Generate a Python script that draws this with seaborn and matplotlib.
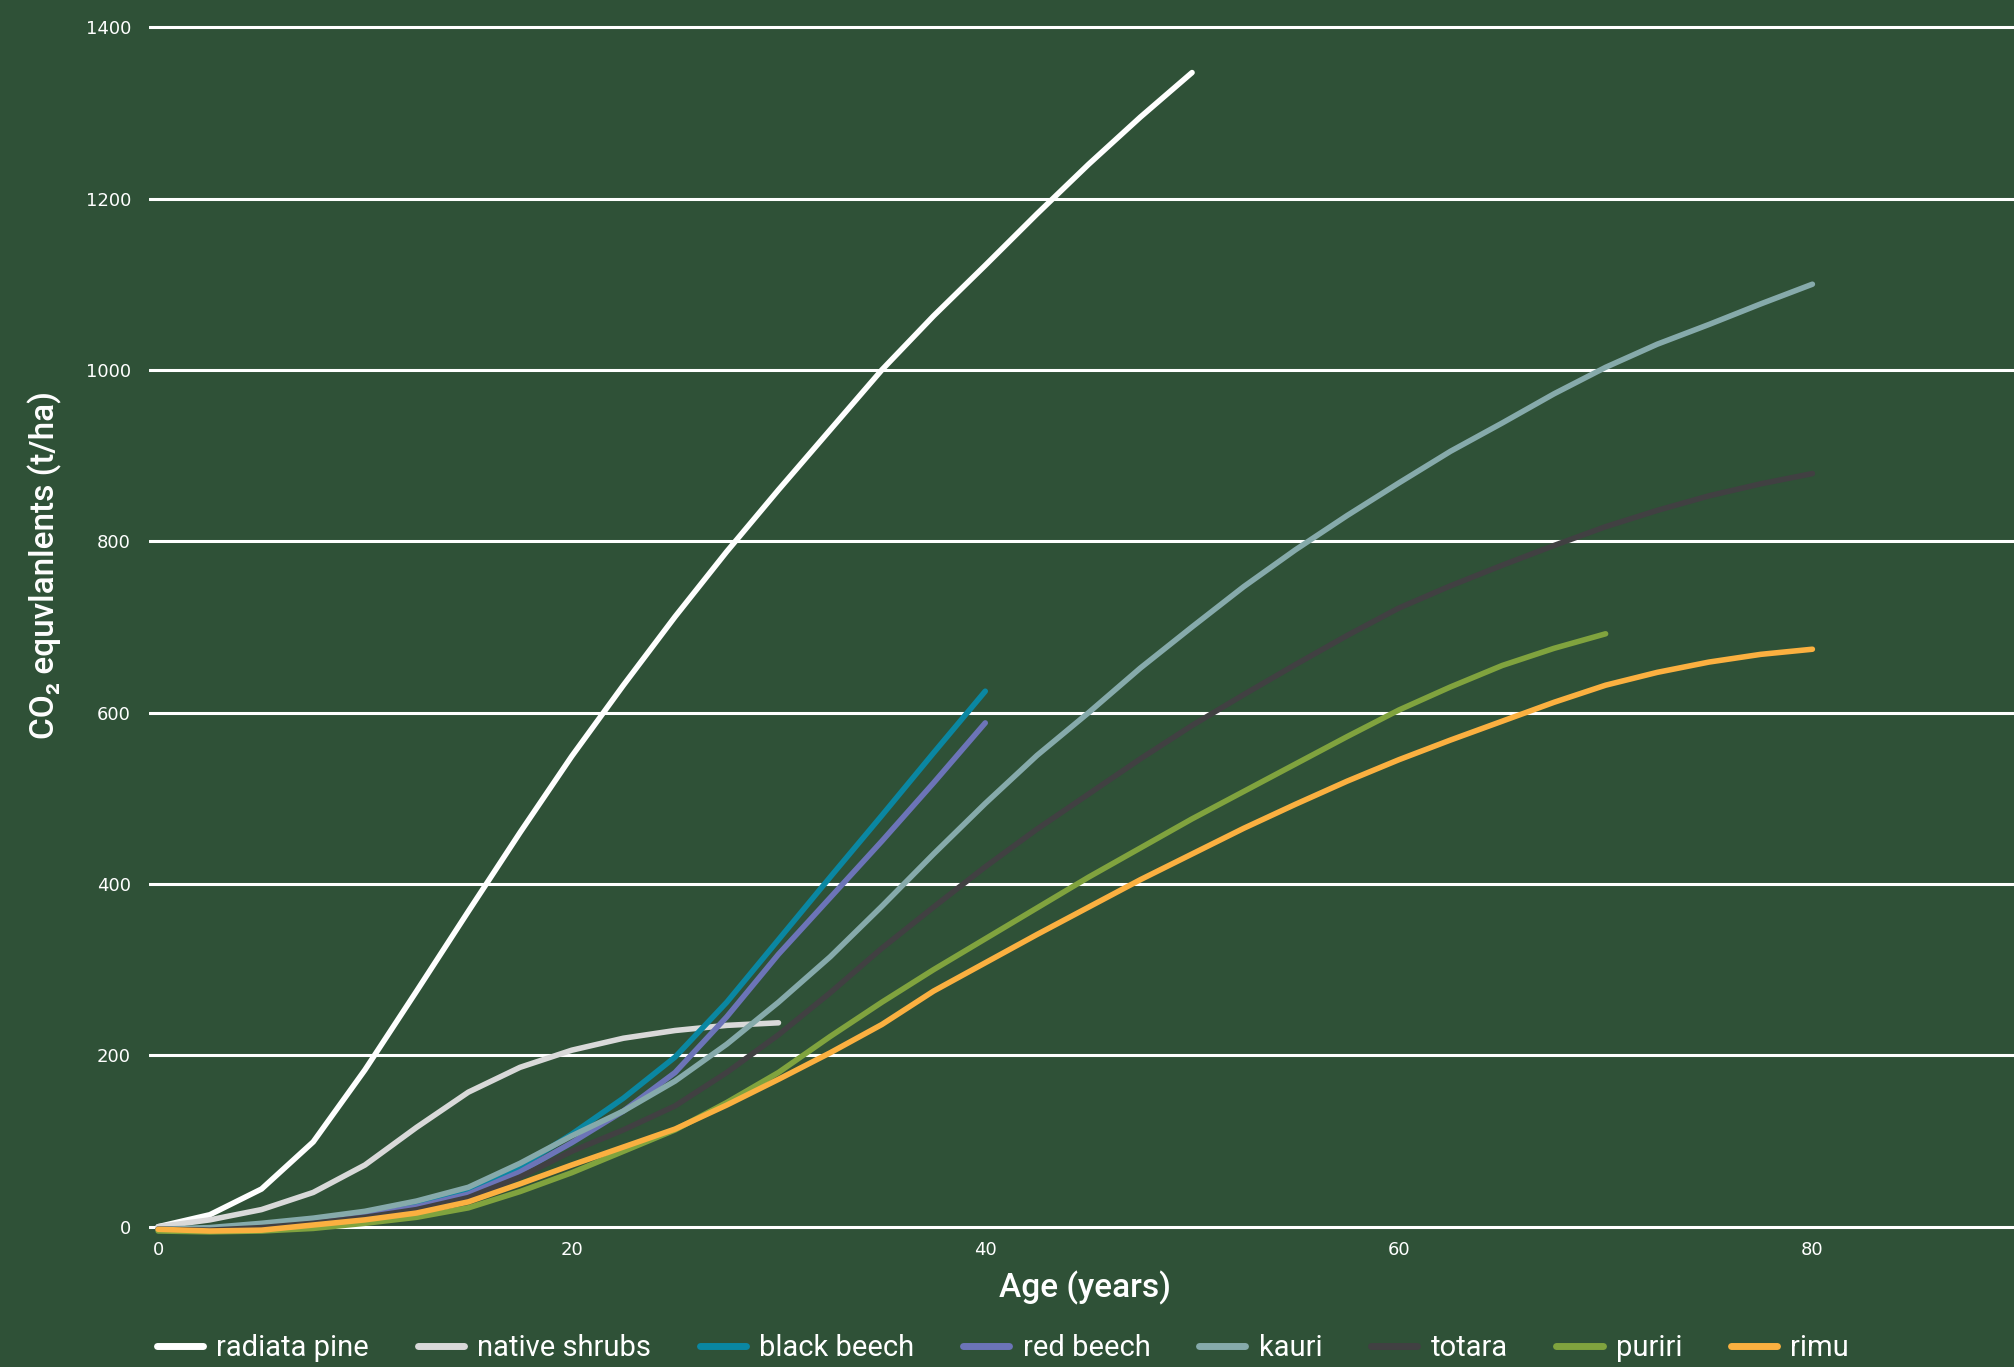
"""
Carbon sequestration curves - CO2 equivalents per hectare by forest type
"""

import pandas as pd
import matplotlib
matplotlib.use('Agg')
import matplotlib.pyplot as plt
import seaborn as sns


BG = '#2f5137'
LABEL_FONT = ['Roboto', 'DejaVu Sans']

species = ['radiata pine', 'native shrubs', 'black beech', 'red beech',
           'kauri', 'totara', 'puriri', 'rimu']
colours = ['#ffffff', '#d9d9d9', '#0a87a2', '#6c74b8',
           '#86aaab', '#414042', '#80a33e', '#fbb040']

# ages (years); each series uses the first len(values) of them
ages = [0, 2.5, 5, 7.5, 10, 12.5, 15, 17.5, 20, 22.5, 25, 27.5, 30,
        32.5, 35, 37.5, 40, 42.5, 45, 47.5, 50, 52.5, 55, 57.5, 60,
        62.5, 65, 67.5, 70, 72.5, 75, 77.5, 80]

# CO2 equivalents (t/ha)
radiata_pine = [0, 14, 44, 99, 183, 275, 368, 460, 549, 632, 712, 788, 860,
                930, 1000, 1063, 1122, 1182, 1240, 1295, 1347]
native_shrubs = [0, 8, 20, 40, 72, 116, 157, 186, 206, 220, 229, 235, 238]
black_beech = [-3, -2, 2, 8, 16, 27, 43, 70, 108, 150, 198, 262, 335,
               408, 480, 553, 625]
red_beech = [-3, -3, 1, 6, 13, 23, 38, 64, 98, 135, 180, 245, 318,
             384, 450, 518, 588]
kauri = [-3, -1, 4, 10, 18, 30, 46, 74, 106, 135, 170, 213, 262,
         315, 374, 435, 494, 550, 600, 652, 700, 747, 790, 830, 868,
         905, 938, 972, 1003, 1030, 1053, 1077, 1100]
totara = [-3, -4, -1, 4, 11, 20, 34, 58, 88, 113, 141, 180, 224,
          273, 325, 373, 420, 464, 505, 546, 585, 621, 656, 690, 722,
          748, 772, 795, 817, 836, 853, 867, 879]
puriri = [-5, -6, -5, -2, 4, 11, 22, 41, 63, 88, 113, 145, 180,
          222, 262, 300, 336, 372, 408, 442, 476, 508, 540, 572, 603,
          630, 655, 675, 692]
rimu = [-3, -5, -4, 2, 8, 16, 29, 50, 72, 93, 114, 142, 172,
        203, 236, 275, 308, 341, 373, 405, 435, 465, 493, 520, 545,
        568, 590, 612, 632, 647, 659, 668, 674]

y_ticks = [0, 200, 400, 600, 800, 1000, 1200, 1400]
x_ticks = [0, 20, 40, 60, 80]


def build_frame():
    """Long-form table for seaborn"""
    series = [radiata_pine, native_shrubs, black_beech, red_beech,
              kauri, totara, puriri, rimu]
    parts = []
    for name, values in zip(species, series):
        parts.append(pd.DataFrame({'species': name,
                                   'age': ages[:len(values)],
                                   'co2': values}))
    return pd.concat(parts, ignore_index=True)


def main():
    sns.set_theme(style='white')
    plt.rcParams['font.family'] = ['DejaVu Sans']

    df = build_frame()

    fig = plt.figure(figsize=(20.14, 13.67), dpi=100, facecolor=BG)
    ax = fig.add_axes([0.074, 0.0951, 0.926, 0.8913])
    ax.set_facecolor(BG)

    sns.lineplot(data=df, x='age', y='co2', hue='species', hue_order=species,
                 palette=dict(zip(species, colours)), estimator=None, sort=False,
                 linewidth=4.0, ax=ax)
    for line in ax.lines:
        line.set_solid_capstyle('round')
        line.set_solid_joinstyle('round')

    ax.set_xlim(-0.44, 89.75)
    ax.set_ylim(-12, 1410)
    ax.set_xticks(x_ticks)
    ax.set_yticks(y_ticks)
    ax.grid(axis='y', color='white', linewidth=2.2)
    ax.grid(axis='x', visible=False)
    ax.set_axisbelow(True)
    for spine in ax.spines.values():
        spine.set_visible(False)

    ax.tick_params(axis='both', length=0, colors='white', labelsize=13)
    ax.tick_params(axis='x', pad=3)
    ax.tick_params(axis='y', pad=13)
    ax.set_xlabel('')
    ax.set_ylabel('')

    fig.text(1085 / 2014, 1 - 1288 / 1367, 'Age (years)', ha='center', va='center',
             color='white', fontsize=24, fontweight='medium', family=LABEL_FONT)
    fig.text(45 / 2014, 1 - 565 / 1367, 'CO\u2082 equvlanlents (t/ha)', rotation=90,
             ha='center', va='center', color='white', fontsize=24,
             fontweight='medium', family=LABEL_FONT)

    sns.move_legend(ax, 'center left', bbox_to_anchor=(157 / 2014, 1 - 1348 / 1367),
                    bbox_transform=fig.transFigure, ncol=8, frameon=False, title=None,
                    borderpad=0, borderaxespad=0, handlelength=1.58, handletextpad=0.45,
                    columnspacing=1.68, labelcolor='white',
                    prop={'family': LABEL_FONT, 'size': 21})
    leg = ax.get_legend()
    for handle in leg.legend_handles:
        handle.set_linewidth(5)
        handle.set_solid_capstyle('round')

    fig.savefig('out.png', dpi=100, facecolor=BG)
    plt.close(fig)


if __name__ == "__main__":
    main()
